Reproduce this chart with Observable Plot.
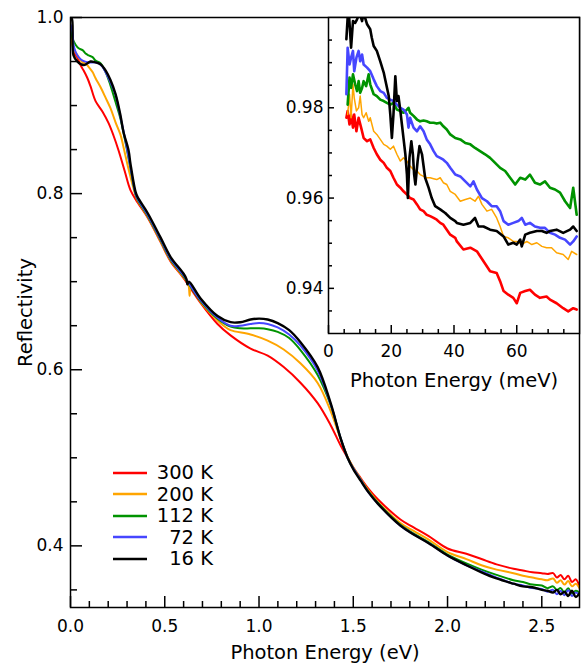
<!DOCTYPE html>
<html><head><meta charset="utf-8">
<script src="https://cdn.jsdelivr.net/npm/d3@7"></script>
<script src="https://cdn.jsdelivr.net/npm/@observablehq/plot@0.6"></script>
<style>
body{margin:0;background:#fff;}
#wrap{position:relative;width:581px;height:664px;font-family:"DejaVu Sans",sans-serif;}
#wrap svg{position:absolute;}
#legend{position:absolute;left:113px;top:462px;font-size:19.5px;color:#000;}
.row{display:flex;align-items:center;height:21.5px;}
.row span{display:inline-block;width:66px;text-align:right;white-space:pre;}
</style></head><body><div id="wrap"></div>
<script>
// ---------- data: main panel (photon energy eV, reflectivity) ----------
const labels = ["300 K", "200 K", "112 K", " 72 K", " 16 K"];
const colors = ["#ff0000", "#ffa500", "#009300", "#4646ff", "#000000"];

const main300K = [[0,0.980],[0.011,0.972],[0.016,0.961],[0.037,0.954],[0.053,0.946],[0.069,0.940],[0.090,0.931],[0.106,0.922],[0.133,0.905],[0.170,0.893],[0.202,0.880],[0.228,0.866],[0.255,0.849],[0.287,0.826],[0.318,0.804],[0.356,0.790],[0.409,0.773],[0.478,0.745],[0.531,0.723],[0.600,0.704],[0.690,0.676],[0.78,0.652],[0.849,0.639],[0.955,0.624],[1.046,0.616],[1.131,0.603],[1.221,0.585],[1.311,0.562],[1.38,0.537],[1.433,0.514],[1.47,0.500],[1.50,0.489],[1.539,0.477],[1.58,0.465],[1.63,0.453],[1.75,0.430],[1.82,0.421],[1.90,0.411],[2.00,0.397],[2.10,0.391],[2.18,0.385],[2.26,0.379],[2.35,0.374],[2.40,0.372],[2.45,0.370],[2.50,0.369],[2.53,0.368],[2.56,0.369],[2.58,0.364],[2.60,0.367],[2.62,0.362],[2.64,0.366],[2.66,0.359],[2.68,0.362],[2.70,0.354]];
const main200K = [[0,0.980],[0.016,0.965],[0.037,0.957],[0.064,0.949],[0.080,0.948],[0.096,0.944],[0.117,0.938],[0.133,0.931],[0.159,0.921],[0.186,0.909],[0.212,0.897],[0.239,0.881],[0.265,0.867],[0.281,0.853],[0.31,0.826],[0.345,0.798],[0.356,0.792],[0.409,0.774],[0.478,0.746],[0.531,0.724],[0.600,0.705],[0.625,0.697],[0.632,0.684],[0.638,0.696],[0.690,0.677],[0.78,0.656],[0.812,0.650],[0.849,0.645],[0.955,0.640],[1.046,0.633],[1.131,0.623],[1.221,0.607],[1.311,0.585],[1.38,0.553],[1.433,0.521],[1.47,0.501],[1.50,0.489],[1.539,0.476],[1.58,0.463],[1.63,0.450],[1.75,0.426],[1.82,0.417],[1.90,0.407],[2.00,0.393],[2.10,0.385],[2.18,0.378],[2.26,0.373],[2.35,0.369],[2.40,0.366],[2.45,0.364],[2.50,0.362],[2.53,0.361],[2.56,0.363],[2.58,0.358],[2.60,0.361],[2.62,0.356],[2.64,0.360],[2.66,0.354],[2.68,0.357],[2.70,0.352]];
const main112K = [[0,0.990],[0.005,0.985],[0.011,0.976],[0.027,0.969],[0.043,0.965],[0.064,0.963],[0.080,0.959],[0.096,0.957],[0.117,0.955],[0.133,0.951],[0.159,0.948],[0.186,0.938],[0.212,0.923],[0.239,0.904],[0.265,0.885],[0.29,0.860],[0.318,0.829],[0.345,0.799],[0.356,0.793],[0.409,0.775],[0.478,0.747],[0.531,0.725],[0.600,0.706],[0.690,0.678],[0.78,0.658],[0.849,0.649],[0.90,0.647],[0.955,0.647],[1.0,0.647],[1.046,0.646],[1.099,0.643],[1.16,0.636],[1.221,0.622],[1.311,0.594],[1.38,0.560],[1.433,0.522],[1.47,0.500],[1.50,0.488],[1.539,0.475],[1.58,0.462],[1.63,0.449],[1.75,0.424],[1.82,0.414],[1.90,0.404],[2.00,0.390],[2.10,0.380],[2.18,0.373],[2.26,0.367],[2.35,0.361],[2.40,0.359],[2.45,0.356],[2.50,0.355],[2.53,0.352],[2.56,0.354],[2.58,0.350],[2.60,0.352],[2.62,0.347],[2.64,0.352],[2.66,0.346],[2.68,0.349],[2.70,0.347]];
const main72K = [[0,0.992],[0.011,0.983],[0.016,0.969],[0.027,0.961],[0.043,0.955],[0.064,0.951],[0.096,0.949],[0.133,0.949],[0.149,0.948],[0.170,0.944],[0.186,0.938],[0.202,0.931],[0.223,0.921],[0.239,0.912],[0.265,0.887],[0.29,0.862],[0.318,0.830],[0.345,0.800],[0.356,0.794],[0.409,0.776],[0.478,0.748],[0.531,0.726],[0.600,0.707],[0.690,0.679],[0.78,0.659],[0.849,0.650],[0.90,0.650],[0.955,0.652],[1.0,0.653],[1.046,0.652],[1.099,0.648],[1.16,0.640],[1.221,0.627],[1.311,0.599],[1.38,0.561],[1.433,0.522],[1.47,0.500],[1.50,0.488],[1.539,0.475],[1.58,0.461],[1.63,0.448],[1.75,0.423],[1.82,0.413],[1.90,0.403],[2.00,0.389],[2.10,0.378],[2.18,0.371],[2.26,0.364],[2.35,0.357],[2.40,0.355],[2.45,0.352],[2.50,0.351],[2.53,0.348],[2.56,0.350],[2.58,0.345],[2.60,0.349],[2.62,0.344],[2.64,0.350],[2.66,0.343],[2.68,0.347],[2.70,0.344]];
const main16K = [[0,1.000],[0.008,0.998],[0.016,0.957],[0.037,0.950],[0.069,0.946],[0.090,0.948],[0.106,0.950],[0.133,0.949],[0.159,0.947],[0.186,0.940],[0.212,0.929],[0.239,0.913],[0.265,0.889],[0.281,0.870],[0.308,0.849],[0.318,0.834],[0.345,0.802],[0.356,0.796],[0.409,0.778],[0.478,0.750],[0.531,0.728],[0.600,0.709],[0.615,0.703],[0.62,0.697],[0.628,0.700],[0.690,0.681],[0.78,0.661],[0.849,0.654],[0.90,0.654],[0.955,0.657],[1.0,0.658],[1.046,0.657],[1.099,0.653],[1.16,0.645],[1.221,0.631],[1.311,0.603],[1.38,0.562],[1.433,0.522],[1.47,0.500],[1.50,0.487],[1.539,0.474],[1.58,0.461],[1.63,0.448],[1.75,0.423],[1.82,0.413],[1.90,0.403],[2.00,0.389],[2.10,0.378],[2.18,0.370],[2.26,0.363],[2.35,0.357],[2.40,0.354],[2.45,0.353],[2.50,0.350],[2.53,0.349],[2.56,0.347],[2.58,0.350],[2.60,0.345],[2.62,0.348],[2.64,0.343],[2.66,0.349],[2.68,0.342],[2.70,0.346]];

// ---------- data: inset (photon energy meV, reflectivity) ----------
const inset300K = [[5.7,0.9778],[6.1,0.9793],[6.7,0.9763],[7.2,0.9785],[7.8,0.9756],[8.2,0.9785],[8.9,0.9748],[9.6,0.9778],[10.4,0.9756],[11.2,0.9733],[12.3,0.9726],[13.3,0.9730],[14.4,0.9711],[15.4,0.9697],[16.5,0.9685],[17.6,0.9678],[18.6,0.9667],[19.7,0.9660],[20.7,0.9645],[21.8,0.9630],[22.9,0.9623],[23.9,0.9615],[25.0,0.9608],[26.0,0.9600],[27.1,0.9597],[28.2,0.9586],[29.2,0.9575],[30.3,0.9571],[31.3,0.9563],[32.4,0.9560],[33.5,0.9556],[34.5,0.9552],[35.6,0.9545],[36.6,0.9541],[37.7,0.9530],[38.8,0.9519],[40.4,0.9512],[40.9,0.9504],[43.0,0.9486],[45.2,0.9490],[47.3,0.9482],[49.4,0.9460],[51.5,0.9438],[53.6,0.9434],[54.7,0.9416],[55.8,0.9394],[57.3,0.9386],[58.9,0.9379],[60.0,0.9367],[61.1,0.9390],[62.7,0.9394],[64.2,0.9397],[65.8,0.9386],[67.4,0.9379],[69.5,0.9382],[70.6,0.9375],[72.7,0.9367],[74.8,0.9356],[76.4,0.9349],[78.0,0.9356],[79.1,0.9353]];
const inset200K = [[6.1,0.9785],[6.7,0.9830],[7.2,0.9778],[7.8,0.9852],[8.2,0.9822],[8.9,0.9793],[9.6,0.9800],[10.1,0.9826],[10.7,0.9785],[11.2,0.9778],[12.0,0.9789],[12.8,0.9770],[13.3,0.9778],[14.4,0.9748],[15.4,0.9741],[16.5,0.9730],[17.6,0.9719],[18.6,0.9715],[19.7,0.9708],[20.7,0.9715],[21.8,0.9697],[22.9,0.9682],[23.9,0.9689],[25.0,0.9682],[26.0,0.9671],[27.1,0.9663],[28.2,0.9660],[29.2,0.9652],[30.3,0.9648],[31.3,0.9645],[32.4,0.9645],[33.5,0.9643],[34.5,0.9641],[35.6,0.9645],[36.6,0.9634],[37.7,0.9630],[38.8,0.9615],[40.4,0.9608],[42.0,0.9593],[43.6,0.9597],[45.2,0.9600],[46.7,0.9593],[47.8,0.9604],[48.9,0.9586],[50.5,0.9571],[52.0,0.9575],[53.6,0.9556],[54.7,0.9537],[55.8,0.9515],[57.3,0.9512],[58.9,0.9504],[60.0,0.9504],[61.6,0.9497],[63.2,0.9504],[64.8,0.9497],[66.4,0.9501],[68.0,0.9493],[69.5,0.9490],[71.1,0.9490],[72.7,0.9479],[74.8,0.9475],[76.4,0.9464],[77.5,0.9482],[79.1,0.9475]];
const inset112K = [[6.1,0.9807],[6.7,0.9867],[7.2,0.9844],[7.8,0.9874],[8.5,0.9852],[9.1,0.9837],[9.6,0.9859],[10.1,0.9833],[10.7,0.9844],[11.2,0.9859],[12.0,0.9848],[12.8,0.9874],[13.3,0.9852],[14.4,0.9830],[15.4,0.9826],[16.5,0.9818],[17.6,0.9815],[18.6,0.9811],[19.7,0.9807],[20.7,0.9811],[21.8,0.9796],[22.9,0.9793],[23.9,0.9789],[25.0,0.9796],[25.5,0.9800],[26.0,0.9789],[27.1,0.9782],[28.2,0.9774],[29.2,0.9770],[30.3,0.9772],[31.3,0.9770],[32.4,0.9767],[33.5,0.9767],[34.5,0.9765],[35.6,0.9767],[36.6,0.9759],[37.7,0.9752],[38.8,0.9741],[40.4,0.9733],[42.0,0.9730],[43.6,0.9722],[45.2,0.9719],[46.7,0.9711],[48.3,0.9704],[49.9,0.9697],[51.5,0.9689],[53.1,0.9678],[54.7,0.9667],[56.3,0.9660],[57.9,0.9645],[59.5,0.9630],[61.1,0.9645],[62.7,0.9641],[64.2,0.9652],[65.8,0.9634],[67.4,0.9630],[69.0,0.9637],[70.6,0.9623],[72.2,0.9619],[73.8,0.9612],[75.4,0.9593],[77.0,0.9578],[78.0,0.9623],[79.1,0.9563]];
const inset72K = [[5.7,0.9830],[6.1,0.9933],[6.7,0.9896],[7.2,0.9911],[7.8,0.9926],[8.2,0.9881],[8.9,0.9911],[9.6,0.9926],[10.1,0.9903],[10.7,0.9918],[11.2,0.9896],[12.3,0.9889],[13.3,0.9881],[14.4,0.9863],[15.4,0.9848],[16.5,0.9837],[17.6,0.9833],[18.6,0.9822],[19.7,0.9818],[20.7,0.9815],[21.8,0.9807],[22.9,0.9800],[23.9,0.9796],[25.0,0.9785],[25.5,0.9756],[26.0,0.9778],[27.1,0.9756],[28.2,0.9748],[29.2,0.9759],[30.3,0.9748],[31.3,0.9730],[32.4,0.9719],[33.5,0.9704],[34.5,0.9693],[35.6,0.9689],[36.6,0.9685],[37.7,0.9678],[38.8,0.9667],[40.4,0.9652],[42.0,0.9648],[43.6,0.9637],[45.2,0.9626],[46.2,0.9637],[47.3,0.9619],[48.9,0.9600],[50.5,0.9593],[52.0,0.9582],[53.6,0.9582],[54.7,0.9571],[55.8,0.9549],[57.3,0.9541],[58.9,0.9545],[60.5,0.9549],[61.6,0.9556],[62.7,0.9541],[64.2,0.9545],[65.8,0.9537],[67.4,0.9534],[69.0,0.9534],[70.6,0.9523],[72.2,0.9519],[73.8,0.9512],[75.4,0.9508],[77.0,0.9497],[78.0,0.9504],[79.1,0.9515]];
const inset16K = [[5.7,0.9952],[6.1,0.9999],[6.4,1.002],[7.2,0.9933],[7.8,0.9992],[8.5,0.9988],[9.1,0.9996],[9.9,1.001],[10.7,0.9992],[11.2,1.001],[12.3,0.9985],[13.3,0.9974],[13.8,0.9955],[14.4,0.9937],[15.4,0.9926],[16.5,0.9903],[17.6,0.9878],[18.4,0.9852],[19.2,0.9826],[19.7,0.9785],[20.2,0.9733],[20.7,0.9785],[21.3,0.9870],[21.8,0.9815],[22.3,0.9826],[22.9,0.9793],[23.4,0.9763],[23.9,0.9733],[24.5,0.9697],[25.0,0.9652],[25.3,0.9600],[25.8,0.9689],[26.4,0.9726],[26.9,0.9697],[27.3,0.9652],[27.7,0.9630],[28.4,0.9682],[29.0,0.9715],[29.8,0.9697],[30.8,0.9645],[31.9,0.9623],[32.9,0.9600],[34.0,0.9582],[35.6,0.9575],[37.2,0.9567],[38.8,0.9556],[40.4,0.9549],[40.9,0.9545],[43.0,0.9541],[45.2,0.9545],[46.7,0.9556],[47.8,0.9537],[49.4,0.9537],[51.5,0.9530],[53.6,0.9527],[55.8,0.9515],[57.3,0.9497],[58.9,0.9501],[60.0,0.9497],[61.1,0.9508],[61.6,0.9493],[62.7,0.9519],[64.2,0.9523],[66.4,0.9527],[68.0,0.9527],[69.5,0.9523],[70.6,0.9527],[72.7,0.9530],[74.8,0.9523],[77.0,0.9530],[78.0,0.9537],[79.1,0.9527]];

// ---------- ticks ----------
const xMajor = [0, 0.5, 1.0, 1.5, 2.0, 2.5];
const xMinor = [0.1,0.2,0.3,0.4,0.6,0.7,0.8,0.9,1.1,1.2,1.3,1.4,1.6,1.7,1.8,1.9,2.1,2.2,2.3,2.4,2.6];
const yMajor = [0.4, 0.6, 0.8, 1.0];
const yMinor = [0.35,0.45,0.5,0.55,0.65,0.7,0.75,0.85,0.9,0.95];
const ixMajor = [0, 20, 40, 60];
const ixMinor = [5,10,15,25,30,35,45,50,55,65,70,75];
const iyMajor = [0.94, 0.96, 0.98];
const iyMinor = [0.935,0.945,0.95,0.955,0.965,0.97,0.975,0.985,0.99,0.995];

const mainSeries = [main300K, main200K, main112K, main72K, main16K];
const insetSeries = [inset300K, inset200K, inset112K, inset72K, inset16K];
const mainWidths = [2, 2, 2, 2, 2.4];
const insetWidths = [2.6, 1.5, 2.6, 2.6, 2.6];

const font = "'DejaVu Sans', sans-serif";
const fx = d => d[0], fy = d => d[1];

const main = Plot.plot({
  width: 581, height: 664,
  marginLeft: 70, marginTop: 17, marginRight: 2, marginBottom: 57,
  x: {domain: [0, 2.7]},
  y: {domain: [0.33, 1.0]},
  style: {fontFamily: font, fontSize: "17px", background: "transparent", color: "#000"},
  marks: [
    ...mainSeries.map((s, i) => Plot.line(s, {x: fx, y: fy, stroke: colors[i], strokeWidth: mainWidths[i], curve: "catmull-rom", clip: true})),
    Plot.axisX(xMajor, {anchor: "bottom", tickSize: -11, tickPadding: 23, tickFormat: d3.format(".1f"), label: null, strokeWidth: 1.5}),
    Plot.axisX(xMinor, {anchor: "bottom", tickSize: -6, tickFormat: () => "", label: null, strokeWidth: 1.5}),
    Plot.axisY(yMajor, {anchor: "left", tickSize: -12, tickPadding: 19, tickFormat: d3.format(".1f"), label: null, strokeWidth: 1.5}),
    Plot.axisY(yMinor, {anchor: "left", tickSize: -7, tickFormat: () => "", label: null, strokeWidth: 1.5}),
    Plot.frame({strokeWidth: 1.5}),
    Plot.text(["Reflectivity"], {text: d => d, frameAnchor: "left", textAnchor: "middle", lineAnchor: "middle", dx: -45, rotate: -90, fontSize: 19.5}),
    Plot.text(["Photon Energy (eV)"], {text: d => d, frameAnchor: "bottom", textAnchor: "middle", lineAnchor: "middle", dy: 45, fontSize: 19.5})
  ]
});
main.style.left = "0px"; main.style.top = "0px";

const inset = Plot.plot({
  width: 313, height: 400,
  marginLeft: 60, marginTop: 17, marginRight: 2, marginBottom: 67,
  x: {domain: [0, 80]},
  y: {domain: [0.93, 1.0]},
  style: {fontFamily: font, fontSize: "17px", background: "transparent", color: "#000"},
  marks: [
    Plot.frame({fill: "white"}),
    ...insetSeries.map((s, i) => Plot.line(s, {x: fx, y: fy, stroke: colors[i], strokeWidth: insetWidths[i], clip: true})),
    Plot.axisX(ixMajor, {anchor: "bottom", tickSize: -8, tickPadding: 19, tickFormat: d => String(d), label: null, strokeWidth: 1.5}),
    Plot.axisX(ixMinor, {anchor: "bottom", tickSize: -4, tickFormat: () => "", label: null, strokeWidth: 1.5}),
    Plot.axisY(iyMajor, {anchor: "left", tickSize: -6, tickPadding: 11, tickFormat: d3.format(".2f"), label: null, strokeWidth: 1.5}),
    Plot.axisY(iyMinor, {anchor: "left", tickSize: -4, tickFormat: () => "", label: null, strokeWidth: 1.5}),
    Plot.frame({strokeWidth: 1.5}),
    Plot.text(["Photon Energy (meV)"], {text: d => d, frameAnchor: "bottom", textAnchor: "middle", lineAnchor: "middle", dy: 47, fontSize: 19.5})
  ]
});
inset.style.left = "268px"; inset.style.top = "0px";

const wrap = document.getElementById("wrap");
wrap.appendChild(main);
wrap.appendChild(inset);

const legend = document.createElement("div");
legend.id = "legend";
labels.forEach((lab, i) => {
  const row = document.createElement("div");
  row.className = "row";
  row.innerHTML = `<svg width="34" height="6" style="position:static"><line x1="0" x2="34" y1="3" y2="3" stroke="${colors[i]}" stroke-width="2.6"/></svg><span>${lab}</span>`;
  legend.appendChild(row);
});
wrap.appendChild(legend);
</script>
</body></html>
